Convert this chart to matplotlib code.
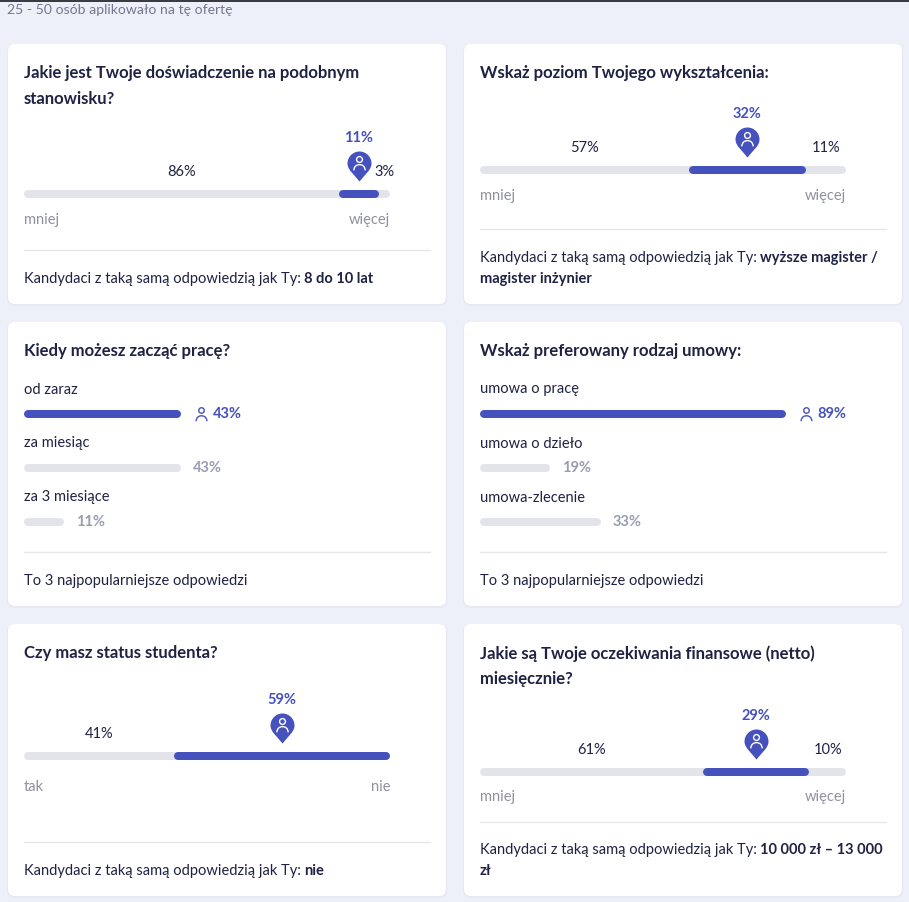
import matplotlib
matplotlib.use('Agg')
import matplotlib.pyplot as plt
from matplotlib.patches import FancyBboxPatch
from matplotlib.path import Path

plt.rcParams['font.family'] = ['Lato', 'DejaVu Sans']

W, H = 909, 902

# dane
naglowek = '25 - 50 osób aplikowało na tę ofertę'

doswiadczenie = [86, 11, 3]
wyksztalcenie = [57, 32, 11]
student = [41, 59]
finanse = [61, 29, 10]

start_kategorie = ['od zaraz', 'za miesiąc', 'za 3 miesiące']
start_wartosci = [43, 43, 11]
start_etykiety = ['43%', '43%', '11%']

umowa_kategorie = ['umowa o pracę', 'umowa o dzieło', 'umowa-zlecenie']
umowa_wartosci = [83.5, 19, 33]  # pasek na obrazku jest krotszy niz napis 89%
umowa_etykiety = ['89%', '19%', '33%']

pytanie_doswiadczenie = 'Jakie jest Twoje doświadczenie na podobnym\nstanowisku?'
pytanie_wyksztalcenie = 'Wskaż poziom Twojego wykształcenia:'
pytanie_start = 'Kiedy możesz zacząć pracę?'
pytanie_umowa = 'Wskaż preferowany rodzaj umowy:'
pytanie_student = 'Czy masz status studenta?'
pytanie_finanse = 'Jakie są Twoje oczekiwania finansowe (netto)\nmiesięcznie?'

BLUE = '#4551bd'
TRACK = '#e2e4ea'
DARK = '#1f2243'
GREY = '#8f919f'
GREY_B = '#9a9db0'
LINE = '#e6e7ec'
BG = '#eef0f9'

FS_TITLE = 12.0
FS_BODY = 10.5

fig = plt.figure(figsize=(W / 100, H / 100), dpi=100, facecolor=BG)
page = fig.add_axes([0, 0, 1, 1])
page.set_xlim(0, W)
page.set_ylim(H, 0)
page.axis('off')

page.plot([0, W], [0.5, 0.5], color='#16171f', lw=1.2)
page.text(7, 9.5, naglowek, color='#74788c', fontsize=10.1, va='center')

# pinezka: czubek na dole, srodek kolka w (0, 0)
pin_path = Path(
    [(0, -18), (-5, -11.5), (-12, -6.5), (-12, 0), (-12, 6.6), (-6.6, 12), (0, 12),
     (6.6, 12), (12, 6.6), (12, 0), (12, -6.5), (5, -11.5), (0, -18)],
    [Path.MOVETO] + [Path.CURVE4] * 12)
ramiona = Path([(-1, -0.5), (-0.9, 0.5), (0, 0.5), (0.9, 0.5), (1, -0.5)],
               [Path.MOVETO, Path.CURVE3, Path.CURVE3, Path.CURVE3, Path.CURVE3])


def px(v):
    return v * 0.72


def card(x, y, w, h, sep_y):
    shadow = FancyBboxPatch((x, y + 1), w, h, boxstyle='round,pad=0,rounding_size=7',
                            fc='#e6e8f2', ec='#e6e8f2', lw=1.5)
    page.add_patch(shadow)
    box = FancyBboxPatch((x, y), w, h, boxstyle='round,pad=0,rounding_size=7', fc='white', ec='none')
    page.add_patch(box)
    page.plot([x + 16, x + w - 16], [sep_y, sep_y], color=LINE, lw=0.9)


def title(x, y, txt):
    page.text(x, y, txt, color=DARK, fontsize=FS_TITLE, fontweight='bold', va='top', linespacing=1.76)


def footer(x, y, normal, bold=None, bold2=None):
    t = page.text(x, y, normal, color=DARK, fontsize=FS_BODY, va='baseline')
    if bold:
        page.annotate(bold, xy=(1, 0), xycoords=t, xytext=(2.5, 0), textcoords='offset points',
                      color=DARK, fontsize=FS_BODY, fontweight='bold', va='bottom')
    if bold2:
        page.text(x, y + 21, bold2, color=DARK, fontsize=FS_BODY, fontweight='bold', va='baseline')


def bar_axes(x, y_bar, above, below):
    # os x to procenty, os y to piksele wzgledem srodka paska
    ax = fig.add_axes([x / W, 1 - (y_bar + below) / H, 366 / W, (above + below) / H])
    ax.set_xlim(0, 100)
    ax.set_ylim(-below, above)
    ax.axis('off')
    return ax


def segment(ax, a, b, y, color):
    r = 4 / 3.66
    ax.plot([a + r, b - r], [y, y], color=color, lw=px(8), solid_capstyle='round', clip_on=False)


def person(ax, x, y, color, scale=1.0):
    ax.plot([x], [y + 3.8 * scale], marker='o', ms=px(5.8 * scale), mfc='none', mec=color, mew=1.0,
            clip_on=False, zorder=5)
    ax.plot([x], [y - 4.3 * scale], marker=ramiona, ms=px(11.5 * scale), mfc='none', mec=color, mew=1.0,
            clip_on=False, zorder=5)


def scale_chart(x, y_bar, values, blue_idx, left_lab, right_lab, low_off=-26):
    ax = bar_axes(x, y_bar, 75, 40)
    segment(ax, 0, 100, 0, TRACK)
    start = 0
    for i, v in enumerate(values):
        mid = start + v / 2
        if i == blue_idx:
            segment(ax, start, start + v, 0, BLUE)
            ax.plot([mid], [31], marker=pin_path, ms=px(36), mfc=BLUE, mec='none', clip_on=False)
            person(ax, mid, 31, 'white')
            ax.text(mid, 56, f'{v}%', color=BLUE, fontsize=FS_BODY, fontweight='bold', ha='center', va='center')
        else:
            ax.text(mid, 22, f'{v}%', color=DARK, fontsize=FS_BODY, ha='center', va='center')
        start += v
    ax.text(0, low_off, left_lab, color=GREY, fontsize=FS_BODY, va='center')
    ax.text(100, low_off, right_lab, color=GREY, fontsize=FS_BODY, va='center', ha='right')


def list_chart(x, y_bar, cats, values, labels):
    ax = bar_axes(x, y_bar, 35, 115)
    for i, (c, v, l) in enumerate(zip(cats, values, labels)):
        y = -54 * i
        ax.text(0, y + 24.5, c, color=DARK, fontsize=FS_BODY, va='center')
        if i == 0:
            segment(ax, 0, v, y, BLUE)
            person(ax, v + 20 / 3.66, y, BLUE, 0.95)
            off, col = 32, BLUE
        else:
            segment(ax, 0, v, y, TRACK)
            off, col = 12, GREY_B
        ax.annotate(l, xy=(v, y), xytext=(px(off), 0), textcoords='offset points', color=col,
                    fontsize=FS_BODY, fontweight='bold', va='center', clip_on=False)


FOOT = 'Kandydaci z taką samą odpowiedzią jak Ty:'
TOP3 = 'To 3 najpopularniejsze odpowiedzi'

# karty
card(8, 44, 438, 260, 250)
title(24, 65, pytanie_doswiadczenie)
scale_chart(24, 194, doswiadczenie, 1, 'mniej', 'więcej')
footer(24, 283, FOOT, '8 do 10 lat')

card(464, 44, 438, 260, 229)
title(480, 65, pytanie_wyksztalcenie)
scale_chart(480, 170, wyksztalcenie, 1, 'mniej', 'więcej')
footer(480, 262, FOOT, 'wyższe magister /', 'magister inżynier')

card(8, 322, 438, 284, 552)
title(24, 343, pytanie_start)
list_chart(24, 414, start_kategorie, start_wartosci, start_etykiety)
footer(24, 585, TOP3)

card(464, 322, 438, 284, 552)
title(480, 343, pytanie_umowa)
list_chart(480, 414, umowa_kategorie, umowa_wartosci, umowa_etykiety)
footer(480, 585, TOP3)

card(8, 624, 438, 272, 842)
title(24, 645, pytanie_student)
scale_chart(24, 756, student, 1, 'tak', 'nie', low_off=-31)
footer(24, 875, FOOT, 'nie')

card(464, 624, 438, 272, 822)
title(480, 645, pytanie_finanse)
scale_chart(480, 772, finanse, 1, 'mniej', 'więcej', low_off=-25)
footer(480, 854, FOOT, '10 000 zł – 13 000', 'zł')

fig.savefig('out.png', dpi=100, facecolor=BG)
